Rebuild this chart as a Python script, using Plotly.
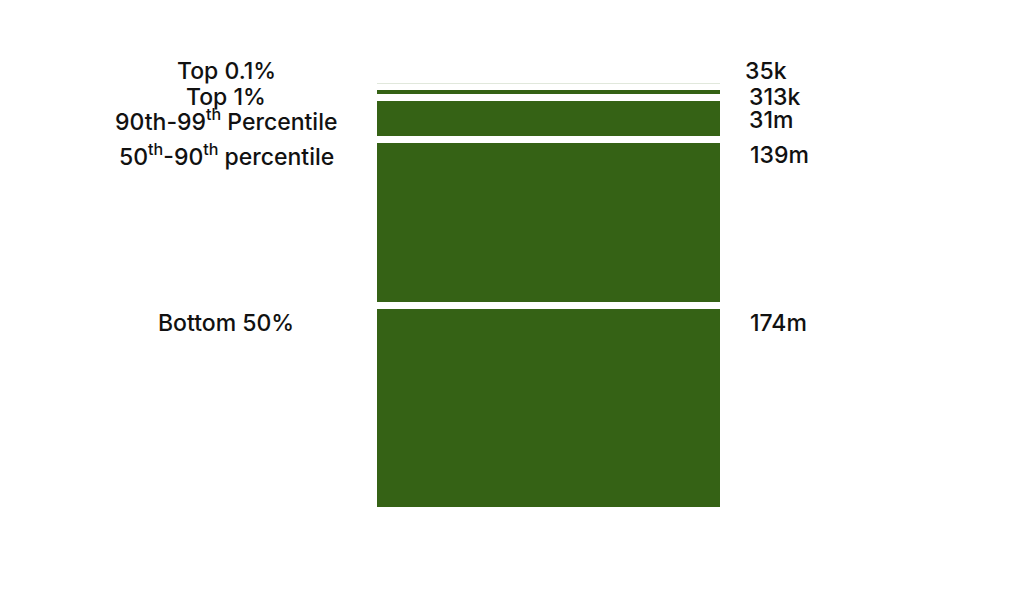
import plotly.graph_objects as go

# Data (bottom to top)
groups = ["Bottom 50%", "50<sup>th</sup>-90<sup>th</sup> percentile",
          "90th-99<sup>th</sup> Percentile", "Top 1%", "Top 0.1%"]
bar_values = [174, 139, 31, 3.13, 0.35]          # millions, as drawn
value_labels = ["174m", "139m", "31m", "313k", "35k"]

GAP = 6.2        # vertical gap between blocks (data units)
COLOR = "#356215"
bar_opacity = [1, 1, 1, 1, 0.15]   # hair-thin top block renders pale

# bases computed from the values
bases = []
acc = 0
for i, v in enumerate(bar_values):
    bases.append(acc)
    acc += v + GAP
total = acc - GAP

fig = go.Figure()
for g, v, b, op in zip(groups, bar_values, bases, bar_opacity):
    fig.add_trace(go.Bar(
        x=["all"], y=[v], base=[b], name=g, opacity=op,
        marker=dict(color=COLOR, line=dict(width=0)),
        hoverinfo="skip", showlegend=False,
    ))

W, H = 1030, 614
OFF = 8  # page body margin
plot_left, plot_right = 376.7 - OFF, 720.0 - OFF
plot_top, plot_bottom = 82.7 - OFF, 506.7 - OFF

# label pixel centres (text vertical centres), in window pixels
label_py = [323, 155, 120, 97, 71]
left_px = 226
right_px = [748, 748, 747, 747, 743.5]

def px_to_paper_x(px):
    return (px - OFF - plot_left) / (plot_right - plot_left)

def py_to_paper_y(py):
    return (plot_bottom - (py - OFF)) / (plot_bottom - plot_top)

font = dict(family="Inter, Open Sans, sans-serif", size=23, color="#111111", weight=500)
for g, vl, py, rx in zip(groups, value_labels, label_py, right_px):
    fig.add_annotation(text=g, xref="paper", yref="paper",
                       x=px_to_paper_x(left_px), y=py_to_paper_y(py),
                       xanchor="center", yanchor="middle", showarrow=False, font=font)
    fig.add_annotation(text=vl, xref="paper", yref="paper",
                       x=px_to_paper_x(rx), y=py_to_paper_y(py),
                       xanchor="left", yanchor="middle", showarrow=False, font=font)

fig.update_layout(
    width=W, height=H,
    margin=dict(l=plot_left, r=W - plot_right, t=plot_top, b=H - plot_bottom, pad=0),
    barmode="overlay", bargap=0,
    plot_bgcolor="white", paper_bgcolor="white",
    xaxis=dict(visible=False, fixedrange=True),
    yaxis=dict(visible=False, range=[0, total], fixedrange=True),
)

fig.write_html("out.html")
